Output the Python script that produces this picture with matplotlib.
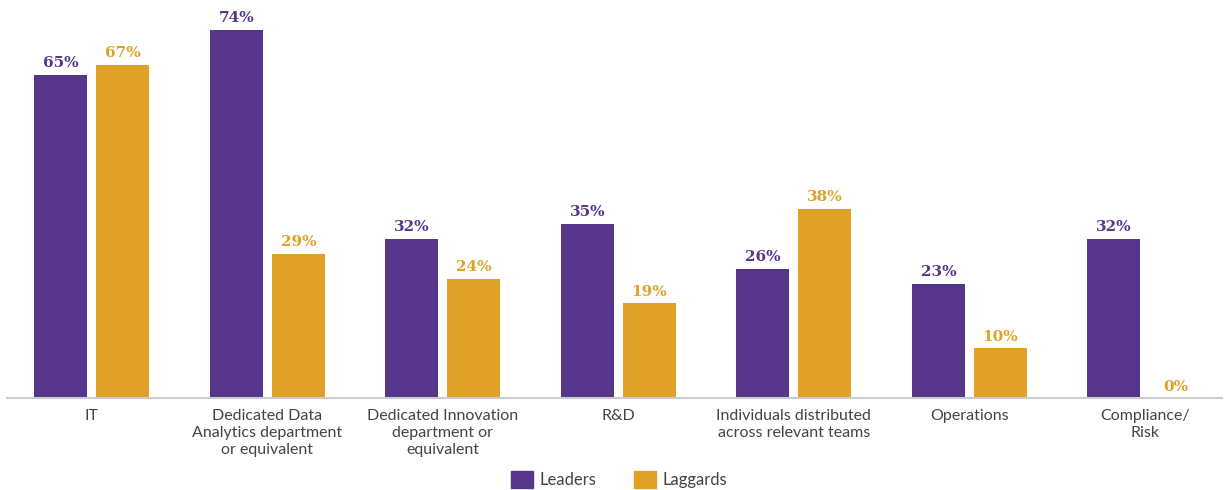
import matplotlib

matplotlib.use("Agg")
import matplotlib.pyplot as plt
import numpy as np
from matplotlib.patches import Patch

categories = [
    "IT",
    "Dedicated Data\nAnalytics department\nor equivalent",
    "Dedicated Innovation\ndepartment or\nequivalent",
    "R&D",
    "Individuals distributed\nacross relevant teams",
    "Operations",
    "Compliance/\nRisk",
]
leaders = [65, 74, 32, 35, 26, 23, 32]
laggards = [67, 29, 24, 19, 38, 10, 0]
series_names = ["Leaders", "Laggards"]

PURPLE = "#56368A"
GOLD = "#E0A126"
TEXT = "#444444"

fig = plt.figure(figsize=(12.26, 4.9), dpi=100)
ax = fig.add_axes([0.0057, 0.1878, 0.991, 0.8122])

x = np.arange(len(categories))
width = 0.302
off = 0.1766
b1 = ax.bar(x - off, leaders, width=width, color=PURPLE)
b2 = ax.bar(x + off, laggards, width=width, color=GOLD)

# value labels above each bar
for bars, vals, col in ((b1, leaders, PURPLE), (b2, laggards, GOLD)):
    for bar, v in zip(bars, vals):
        ax.text(
            bar.get_x() + bar.get_width() / 2,
            v + 0.9,
            f"{v}%",
            ha="center",
            va="bottom",
            fontsize=11,
            fontweight="heavy",
            family="DejaVu Serif",
            color=col,
        )

ax.set_xlim(-0.484, len(categories) - 1 + 0.439)
ax.set_ylim(0, 80)
for s in ("top", "right", "left"):
    ax.spines[s].set_visible(False)
ax.spines["bottom"].set_color("#CCCCCC")
ax.spines["bottom"].set_linewidth(1.5)
ax.set_yticks([])
ax.set_xticks(x)
ax.set_xticklabels(categories, fontsize=11.5, color=TEXT, family="Lato", linespacing=1.25)
ax.tick_params(axis="x", length=0, pad=8)

handles = [Patch(color=PURPLE), Patch(color=GOLD)]
fig.legend(
    handles,
    series_names,
    loc="lower center",
    bbox_to_anchor=(0.505, -0.027),
    ncol=2,
    frameon=False,
    prop={"family": "Lato", "size": 12},
    labelcolor=TEXT,
    handlelength=1.3,
    handleheight=1.2,
    columnspacing=2.3,
    handletextpad=0.4,
)

fig.savefig("out.png", dpi=100)
